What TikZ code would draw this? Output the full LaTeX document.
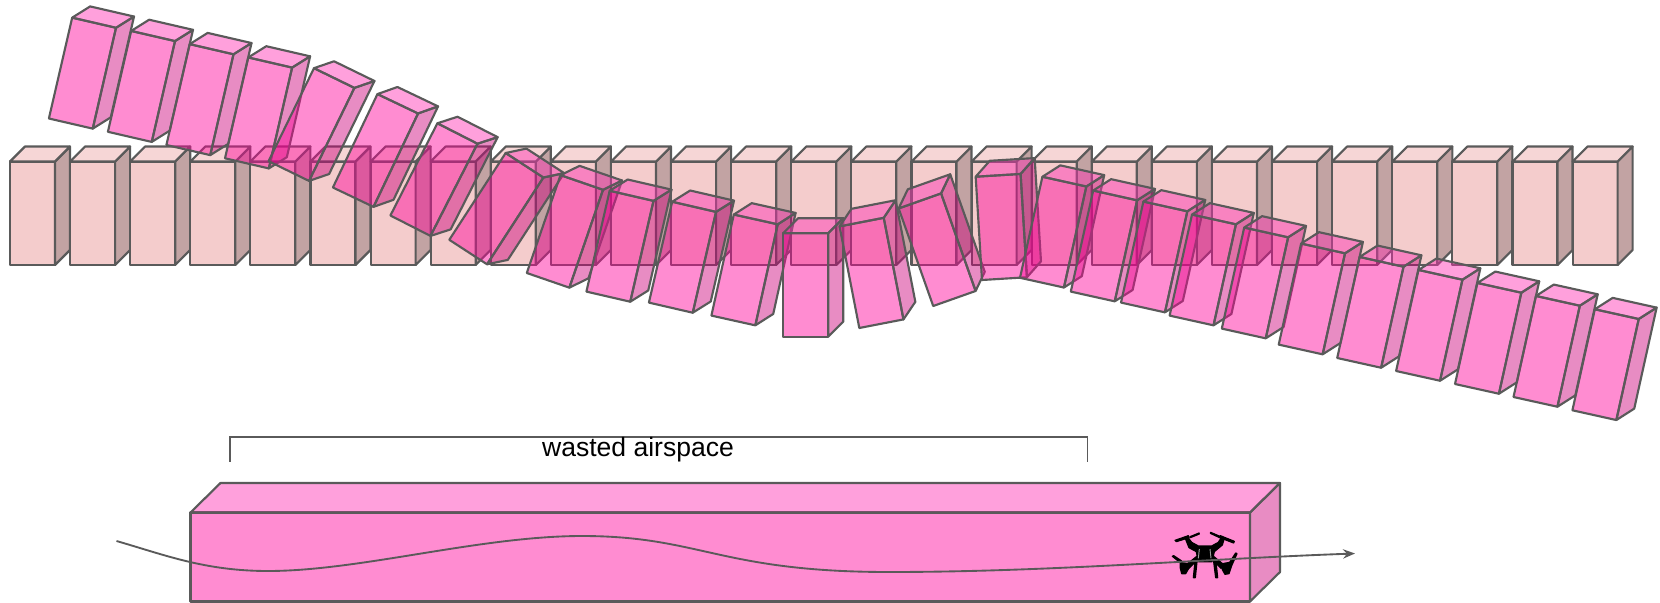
\documentclass[tikz,border=0pt]{standalone}
\usepackage{fontspec}
\setmainfont{Liberation Sans}
\usetikzlibrary{arrows.meta}

\definecolor{rowfront}{RGB}{244,204,204}
\definecolor{rowtop}{RGB}{246,214,214}
\definecolor{rowside}{RGB}{194,163,163}
\definecolor{pinkfront}{RGB}{255,0,153}
\definecolor{pinktop}{RGB}{255,44,178}
\definecolor{pinkside}{RGB}{204,0,122}
\definecolor{edgegray}{RGB}{90,90,90}

\tikzset{every picture/.style={line width=0.75pt}}
\tikzset{
  edgeline/.style={draw=edgegray,line width=1.6pt,line join=round},
  thinline/.style={draw=edgegray,line width=1.4pt},
  pinkface/.style={edgeline,fill=#1,fill opacity=0.45},
  rowface/.style={edgeline,fill=#1},
  dronepart/.style={fill=black,draw=black,line width=0.9pt,line join=round}
}

% one block: #1 = face style, #2 #3 #4 = front, side, top colours
\newcommand{\blockfaces}[4]{
  \draw [#1=#2] (0,0) -- (45,0) -- (45,-103.5) -- (0,-103.5) -- cycle ;
  \draw [#1=#3] (45,0) -- (60,-15) -- (60,-118.5) -- (45,-103.5) -- cycle ;
  \draw [#1=#4] (0,-103.5) -- (15,-118.5) -- (60,-118.5) -- (45,-103.5) -- cycle ;
}

\begin{document}
\begin{tikzpicture}[x=0.75pt,y=0.75pt,yscale=-1,xscale=1]
\useasboundingbox (0,0) rectangle (1660,603);

%Shape: straight row of blocks
\foreach \i in {0,...,26}{
  \begin{scope}[shift={(10+60.1*\i,265)}]
    \blockfaces{rowface}{rowfront}{rowside}{rowtop}
  \end{scope}
}

%Shape: tilted row of blocks (corner x, corner y, angle)
\foreach \px/\py/\ang in {48.9/118.5/13, 107.9/131.8/13, 166.4/145/13, 225/158.3/13,
  268.6/161.2/26, 332.9/187.5/25.5, 390.4/215.5/27, 449.3/239.8/33,
  526.8/273/19, 586.4/291.6/13, 648.9/302.6/13, 711.4/315.6/12.5,
  783.2/336.7/0, 859.3/328/-11, 933.2/306/-19.5, 982/280/-3.5,
  1020/277.8/12.5, 1070.8/291.6/12.5, 1121/302.6/12.5, 1169.6/315.6/12.5,
  1221.8/328.6/12.5, 1278.7/344.6/12.5, 1337.2/358/12.5, 1396.1/371/12.5,
  1455/384/12.5, 1513.5/397/12.5, 1572.4/410.3/12.5}{
  \begin{scope}[shift={(\px,\py)},rotate=\ang]
    \blockfaces{pinkface}{pinkfront}{pinkside}{pinktop}
  \end{scope}
}

%Shape: bracket over the wasted part
\coordinate (brLow) at (230,461.5);
\coordinate (brLeft) at (230,437);
\coordinate (brRight) at (1087.5,437);
\coordinate (brEnd) at (1087.5,461.5);
\draw [thinline] (brLow) -- (brLeft) -- (brRight) -- (brEnd) ;

% Text Node
\node (wasted) at (638,450) [inner sep=0pt,font=\fontsize{19.9}{24}\selectfont] {wasted airspace};

%Shape: long corridor
\draw [pinkface=pinkfront] (190.5,601.5) -- (1250,601.5) -- (1250,512.5) -- (190.5,512.5) -- cycle ;
\draw [pinkface=pinkside] (1250,601.5) -- (1280,572) -- (1280,483) -- (1250,512.5) -- cycle ;
\draw [pinkface=pinktop] (190.5,512.5) -- (220.5,483) -- (1280,483) -- (1250,512.5) -- cycle ;

%Shape: drone
\begin{scope}[shift={(1165,525)},scale=0.3333]
  \fill [dronepart] (30,46) -- (70,32) -- (72,38) -- (34,50) -- cycle ;
  \fill [dronepart] (75,35) -- (102,24) -- (103,27) -- (76,38) -- cycle ;
  \fill [dronepart] (137,22) -- (165,34) -- (164,38) -- (136,25) -- cycle ;
  \fill [dronepart] (166,32) -- (208,49) -- (206,54) -- (164,38) -- cycle ;
  \fill [dronepart] (60,38) -- (68,36) -- (80,52) -- (100,63) -- (140,63) -- (160,52) -- (170,36) -- (178,40) -- (172,60) -- (148,80) -- (141,110) -- (100,110) -- (94,80) -- (72,68) -- cycle ;
  \fill [dronepart] (22,94) -- (26,92) -- (50,108) -- (46,113) -- cycle ;
  \fill [dronepart] (98,92) -- (98,104) -- (72,130) -- (60,122) -- cycle ;
  \fill [dronepart] (46,112) -- (68,116) -- (70,132) -- (62,146) -- (50,146) -- (46,130) -- cycle ;
  \fill [dronepart] (90,110) -- (96,110) -- (91,158) -- (85,158) -- cycle ;
  \fill [dronepart] (146,110) -- (153,110) -- (158,158) -- (152,158) -- cycle ;
  \fill [dronepart] (143,92) -- (143,104) -- (168,130) -- (180,122) -- cycle ;
  \fill [dronepart] (172,116) -- (194,112) -- (212,84) -- (216,86) -- (200,122) -- (192,146) -- (180,148) -- (172,134) -- cycle ;
  \draw [line width=0.7pt,color=edgegray!60] (103,72) -- (100,100) (135,72) -- (138,100) ;
\end{scope}

%Shape: flight path
\coordinate (pathStart) at (116.5,541);
\coordinate (pathLow) at (268,571);
\coordinate (pathHigh) at (582,536);
\coordinate (pathFlat) at (889,572);
\coordinate (pathEnd) at (1355,553.5);
\draw [thinline,-{Stealth[length=9pt,width=7pt,inset=3pt]}] (pathStart) .. controls (165,555) and (205,571) .. (pathLow) .. controls (360,571) and (480,536) .. (pathHigh) .. controls (700,536) and (720,572) .. (pathFlat) .. controls (1050,572) and (1200,559) .. (pathEnd) ;

\end{tikzpicture}
\end{document}
